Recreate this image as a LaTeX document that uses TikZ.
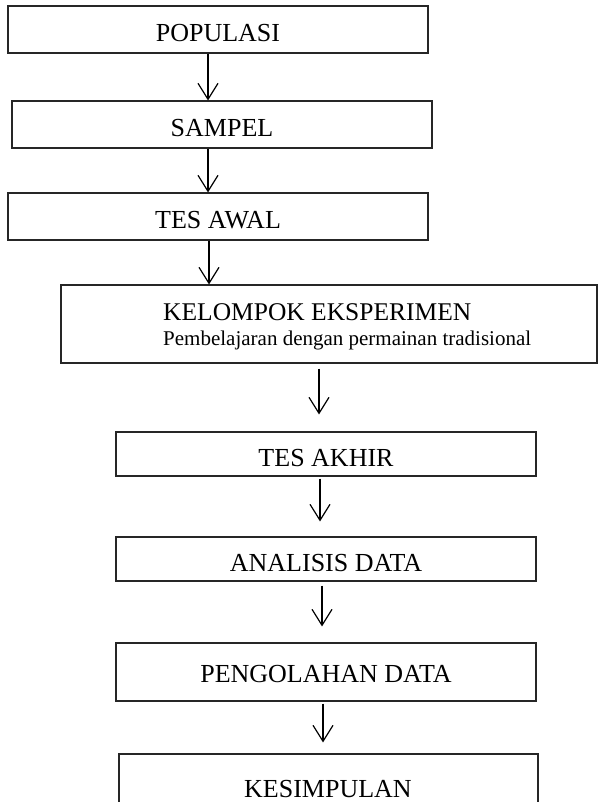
\documentclass[tikz,border=0pt]{standalone}
\usepackage{fontspec}
\setmainfont{Liberation Serif}
\usetikzlibrary{arrows.meta,calc}
\begin{document}
\begin{tikzpicture}[x=1pt,y=-1pt,
  box/.style={draw=black!85,line width=1.1pt,rectangle,inner sep=0pt,
    text height=24.5pt,text depth=0pt,
    font=\fontsize{26}{30}\selectfont},
  arr/.style={draw=black,line width=1.2pt,-{Straight Barb[length=16pt,width=20pt,line width=1.2pt]}},
  lbl/.style={inner sep=0pt,font=\fontsize{25.5}{30}\selectfont}]
\path[use as bounding box] (0,0) rectangle (598,802);
\node[box,minimum width=420pt,minimum height=47pt] (b1) at (218,29.5) {POPULASI};
\node[box,minimum width=420pt,minimum height=47pt] (b2) at (222,124.5) {SAMPEL};
\node[box,minimum width=420pt,minimum height=47pt] (b3) at (218,216.5) {TES AWAL};
\node[box,minimum width=536pt,minimum height=78pt] (b4) at (329,324) {};
\node[lbl,anchor=base west] (t4a) at (163,320) {KELOMPOK EKSPERIMEN};
\node[lbl,anchor=base west,font=\fontsize{21}{25}\selectfont] (t4b) at (163,345) {Pembelajaran dengan permainan tradisional};
\node[box,minimum width=420pt,minimum height=44pt] (b5) at (326,454) {TES AKHIR};
\node[box,minimum width=420pt,minimum height=44pt] (b6) at (326,559) {ANALISIS DATA};
\node[box,minimum width=420pt,minimum height=58pt,text height=20pt] (b7) at (326,672) {PENGOLAHAN DATA};
\node[box,minimum width=419pt,minimum height=70pt] (b8) at (328.5,789) {};
\node[lbl,anchor=base,font=\fontsize{26}{30}\selectfont] (t8) at (328,797) {KESIMPULAN};
\coordinate (x1) at (208,0);
\coordinate (x3) at (209,0);
\coordinate (x4) at (319,0);
\coordinate (x5) at (320,0);
\coordinate (x6) at (322,0);
\coordinate (x7) at (323,0);
\draw[arr] (b1.south -| x1) -- (b2.north -| x1);
\draw[arr] (b2.south -| x1) -- (b3.north -| x1);
\draw[arr] (b3.south -| x3) -- (b4.north -| x3);
\draw[arr,shorten <=5pt,shorten >=17pt] (b4.south -| x4) -- (b5.north -| x4);
\draw[arr,shorten <=2pt,shorten >=15pt] (b5.south -| x5) -- (b6.north -| x5);
\draw[arr,shorten <=4pt,shorten >=16pt] (b6.south -| x6) -- (b7.north -| x6);
\draw[arr,shorten <=2pt,shorten >=11pt] (b7.south -| x7) -- (b8.north -| x7);
\end{tikzpicture}
\end{document}
